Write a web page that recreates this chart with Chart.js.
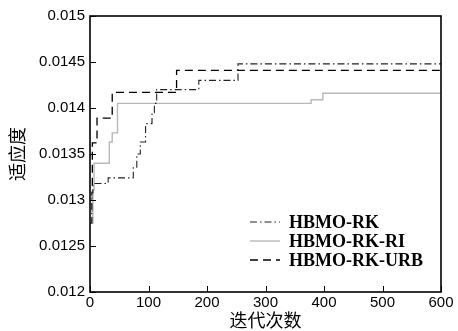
<!DOCTYPE html>
<html>
<head>
<meta charset="utf-8">
<script src="https://cdn.jsdelivr.net/npm/chart.js@4/dist/chart.umd.min.js"></script>
<style>
  html, body { margin: 0; padding: 0; background: #fff; }
  #wrap { width: 458px; height: 331px; position: relative; }
</style>
</head>
<body>
<div id="wrap"><canvas id="fitGraph"></canvas></div>
<script>
'use strict';

// series labels
const seriesNames = ['HBMO-RK', 'HBMO-RK-RI', 'HBMO-RK-URB'];

// HBMO-RK (dash-dot)
const rkIter = [1, 3, 5, 31, 74, 80, 86, 95, 106, 110, 114, 186, 253, 600];
const rkFit  = [0.01275, 0.01308, 0.01318, 0.01324, 0.01335, 0.0135, 0.01363, 0.01383, 0.01395, 0.01405, 0.0142, 0.0143, 0.01448, 0.01448];

// HBMO-RK-RI (grey solid)
const riIter = [1, 5, 7, 33, 38, 47, 378, 398, 600];
const riFit  = [0.01275, 0.01311, 0.0134, 0.01363, 0.01373, 0.01405, 0.01409, 0.01416, 0.01416];

// HBMO-RK-URB (dashed)
const urbIter = [1, 4, 12, 38, 148, 600];
const urbFit  = [0.01275, 0.01362, 0.01389, 0.01417, 0.01441, 0.01441];

// tick labels
const xTicks = [0, 100, 200, 300, 400, 500, 600];
const yTicks = [0.012, 0.0125, 0.013, 0.0135, 0.014, 0.0145, 0.015];

function pts(xs, ys) {
  return xs.map(function (x, i) { return { x: x, y: ys[i] }; });
}

// inward ticks + box + legend inside plot
const framePlugin = {
  id: 'frame',
  afterDraw: function (chart) {
    const ctx = chart.ctx;
    const a = chart.chartArea;
    const xs = chart.scales.x, ys = chart.scales.y;
    ctx.save();
    ctx.strokeStyle = '#000';
    ctx.lineWidth = 1;
    xTicks.forEach(function (v) {
      const px = Math.round(xs.getPixelForValue(v)) + 0.5;
      ctx.beginPath(); ctx.moveTo(px, a.bottom); ctx.lineTo(px, a.bottom - 6); ctx.stroke();
    });
    yTicks.forEach(function (v) {
      const py = Math.round(ys.getPixelForValue(v)) + 0.5;
      ctx.beginPath(); ctx.moveTo(a.left, py); ctx.lineTo(a.left + 6, py); ctx.stroke();
    });
    ctx.lineWidth = 1.6;
    ctx.strokeRect(a.left, a.top, a.right - a.left, a.bottom - a.top);

    // legend
    const lx = 250, ly = 222, step = 19;
    chart.data.datasets.forEach(function (ds, i) {
      const y = ly + i * step;
      ctx.strokeStyle = ds.borderColor;
      ctx.lineWidth = ds.borderWidth;
      ctx.setLineDash(ds.borderDash || []);
      ctx.beginPath(); ctx.moveTo(lx, y); ctx.lineTo(lx + 30, y); ctx.stroke();
      ctx.setLineDash([]);
      ctx.fillStyle = '#000';
      ctx.font = 'bold 18px "Liberation Serif"';
      ctx.textBaseline = 'middle';
      ctx.textAlign = 'left';
      ctx.fillText(ds.label, lx + 39, y + 1);
    });
    ctx.restore();
  }
};

window.onload = function () {

  let context = document.getElementById('fitGraph').getContext('2d');

  new Chart(context, {
    type: 'line',
    data: {
      datasets: [{
        label: seriesNames[0],
        data: pts(rkIter, rkFit),
        borderColor: '#222',
        borderWidth: 1.1,
        borderDash: [7, 3, 1.5, 3],
        stepped: true,
        pointRadius: 0,
        fill: false,
      }, {
        label: seriesNames[1],
        data: pts(riIter, riFit),
        borderColor: '#b8b8b8',
        borderWidth: 1.4,
        stepped: true,
        pointRadius: 0,
        fill: false,
      }, {
        label: seriesNames[2],
        data: pts(urbIter, urbFit),
        borderColor: '#000',
        borderWidth: 1.3,
        borderDash: [8, 5],
        stepped: true,
        pointRadius: 0,
        fill: false,
      }],
    },
    options: {
      responsive: true,
      maintainAspectRatio: false,
      animation: false,
      layout: { padding: { left: 0, right: 17, top: 16, bottom: 0 } },
      scales: {
        x: {
          type: 'linear',
          min: 0,
          max: 600,
          afterBuildTicks: function (scale) {
            scale.ticks = xTicks.map(function (v) { return { value: v }; });
          },
          afterFit: function (scale) { scale.height = 39; },
          ticks: {
            color: '#000',
            font: { family: '"Liberation Sans"', size: 15 },
            padding: 2,
            maxRotation: 0,
          },
          grid: { display: false, drawTicks: false },
          border: { display: false },
          title: {
            display: true,
            text: '迭代次数',
            color: '#000',
            font: { family: '"Noto Sans CJK SC"', size: 18 },
            padding: { top: 0, bottom: 0 },
          },
        },
        y: {
          type: 'linear',
          min: 0.012,
          max: 0.015,
          afterBuildTicks: function (scale) {
            scale.ticks = yTicks.map(function (v) { return { value: v }; });
          },
          afterFit: function (scale) { scale.width = 90; },
          ticks: {
            color: '#000',
            font: { family: '"Liberation Sans"', size: 15 },
            padding: 5,
            callback: function (value) {
              return String(Number(value.toFixed(4)));
            },
          },
          grid: { display: false, drawTicks: false },
          border: { display: false },
          title: {
            display: true,
            text: '适应度',
            color: '#000',
            font: { family: '"Noto Sans CJK SC"', size: 18 },
            padding: { top: 6, bottom: 0 },
          },
        },
      },
      plugins: {
        legend: { display: false },
        tooltip: { enabled: false },
      },
    },
    plugins: [framePlugin],
  });

};
</script>
</body>
</html>
